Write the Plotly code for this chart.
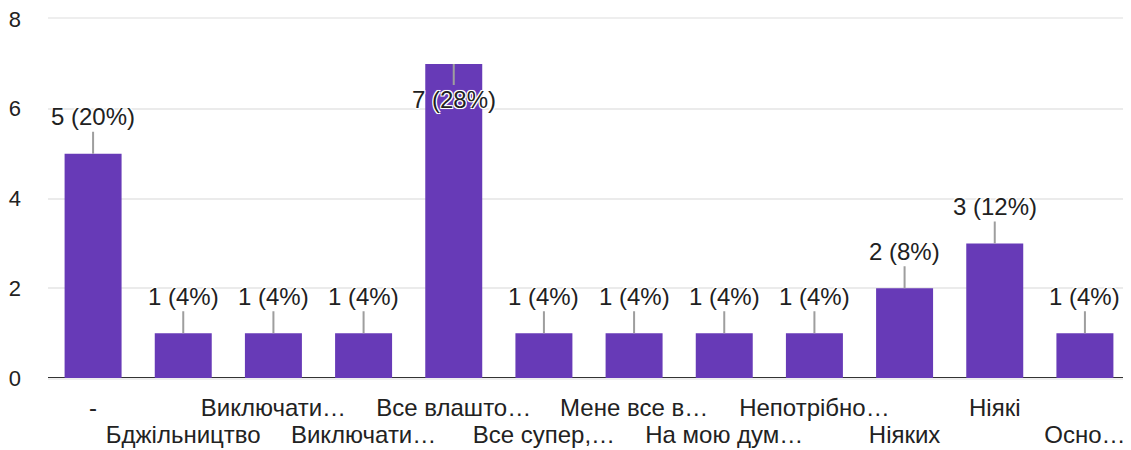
import plotly.graph_objects as go

categories = ["-", "Бджільництво", "Виключати…", "Виключати…", "Все влашто…", "Все супер,…",
              "Мене все в…", "На мою дум…", "Непотрібно…", "Ніяких", "Ніякі", "Осно…"]
counts = [5, 1, 1, 1, 7, 1, 1, 1, 1, 2, 3, 1]
percents = [20, 4, 4, 4, 28, 4, 4, 4, 4, 8, 12, 4]
y_ticks = [0, 2, 4, 6, 8]

FONT = "Liberation Sans, Arial, sans-serif"
PURPLE = "#673ab7"
Y_MAX = 8

xs = list(range(len(categories)))
row1_vals = [x for x in xs if x % 2 == 0]
row1_text = [categories[x] for x in row1_vals]
row2_vals = [x for x in xs if x % 2 == 1]
row2_text = [categories[x] for x in row2_vals]

fig = go.Figure()
fig.add_trace(go.Bar(x=xs, y=counts, marker=dict(color=PURPLE, line=dict(width=0)),
                     hoverinfo="skip"))
# invisible trace so the second (label-row) x axis is drawn
fig.add_trace(go.Scatter(x=xs, y=counts, xaxis="x2", mode="none",
                         hoverinfo="skip", showlegend=False))

halo = "-1px -1px 0 #fff, 1px -1px 0 #fff, -1px 1px 0 #fff, 1px 1px 0 #fff, 0 0 2px #fff"
annotations = []
for x, c, p in zip(xs, counts, percents):
    inside = c >= Y_MAX - 1
    annotations.append(dict(
        x=x, y=c, xref="x", yref="y",
        text=f"{c} ({p}%)",
        showarrow=True, arrowhead=0, arrowwidth=2, arrowcolor="#9e9e9e",
        ax=0, ay=36 if inside else -37,
        font=dict(family=FONT, size=24, color="#212121", shadow=halo),
        borderpad=1,
    ))

xrange = [-0.5, len(categories) - 0.5]
tickfont = dict(family=FONT, size=24, color="#222222")

fig.update_layout(
    width=1123, height=442,
    margin=dict(l=40, r=1, t=11, b=72),
    paper_bgcolor="#ffffff", plot_bgcolor="#ffffff",
    bargap=0.368,
    showlegend=False,
    annotations=annotations,
    font=dict(family=FONT, size=22, color="#222222"),
    xaxis=dict(
        tickmode="array", tickvals=row1_vals, ticktext=row1_text,
        range=xrange,
        showgrid=False, zeroline=False, ticks="",
        showline=True, linecolor="#eeeeee", linewidth=2, mirror=True,
        tickfont=tickfont, tickangle=0, automargin=False,
        ticklabelstandoff=7, ticklabeloverflow="allow",
    ),
    xaxis2=dict(
        overlaying="x", anchor="y", side="bottom",
        tickmode="array", tickvals=row2_vals, ticktext=row2_text,
        range=xrange,
        showgrid=False, zeroline=False, showline=False, ticks="",
        tickfont=tickfont, tickangle=0, automargin=False,
        ticklabelstandoff=40, ticklabeloverflow="allow",
    ),
    yaxis=dict(
        range=[0, Y_MAX], tickvals=y_ticks,
        showgrid=True, gridcolor="#ebebeb", gridwidth=2,
        zeroline=True, zerolinecolor="#333333", zerolinewidth=3,
        ticks="", ticklabelstandoff=26, ticklabeloverflow="allow",
        tickfont=dict(family=FONT, size=22, color="#222222"),
        automargin=False,
    ),
)

fig.write_html("out.html")
